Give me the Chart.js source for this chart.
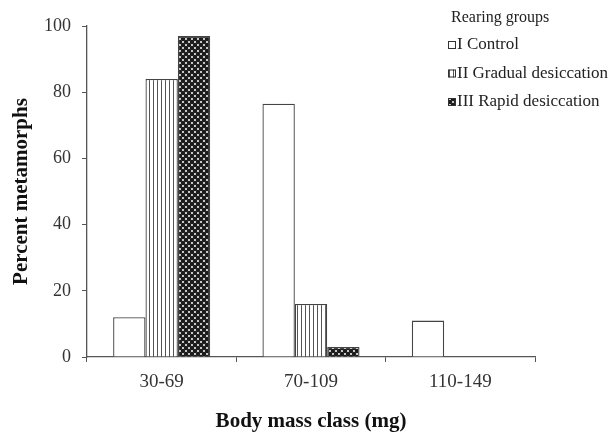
<!DOCTYPE html>
<html lang="en">
<head>
    <meta charset="UTF-8">
    <title>Percent metamorphs by body mass class</title>
    <script src="https://cdn.jsdelivr.net/npm/chart.js@4.4.1/dist/chart.umd.min.js"></script>
    <style>
        body {
            margin: 0;
            background: #fff;
        }
        #wrap {
            width: 613px;
            height: 432px;
        }
    </style>
</head>
<body>

<div id="wrap">
    <canvas id="massChart" width="613" height="432"></canvas>
</div>

<script>
    // data
    const massClasses = ['30-69', '70-109', '110-149'];
    const controlPct = [12, 76.5, 11];
    const gradualPct = [84, 16, 0];
    const rapidPct = [97, 3, 0];
    const yTicks = [0, 20, 40, 60, 80, 100];
    const groupNames = ['I Control', 'II Gradual desiccation', 'III Rapid desiccation'];

    const serif = '"Liberation Serif", "Times New Roman", serif';

    // fill patterns for the three groups
    function makeStripes() {
        const c = document.createElement('canvas');
        c.width = 4; c.height = 4;
        const g = c.getContext('2d');
        g.fillStyle = '#fff';
        g.fillRect(0, 0, 4, 4);
        g.fillStyle = '#555';
        g.fillRect(1, 0, 1, 4);
        return g.createPattern(c, 'repeat');
    }

    function makeDots() {
        const c = document.createElement('canvas');
        c.width = 6; c.height = 6;
        const g = c.getContext('2d');
        g.fillStyle = '#fff';
        g.fillRect(0, 0, 6, 6);
        g.fillStyle = '#1c1c1c';
        [[0, 0], [6, 0], [0, 6], [6, 6], [3, 3]].forEach(p => {
            g.beginPath();
            g.arc(p[0], p[1], 2.3, 0, Math.PI * 2);
            g.fill();
        });
        return g.createPattern(c, 'repeat');
    }

    const fills = ['#fff', makeStripes(), makeDots()];

    // legend drawn in the top right corner, over the plot
    const cornerLegend = {
        id: 'cornerLegend',
        afterDraw(chart) {
            const ctx = chart.ctx;
            ctx.save();
            ctx.font = '16px ' + serif;
            ctx.fillStyle = '#222';
            ctx.textBaseline = 'middle';
            ctx.fillText('Rearing groups', 451, 18);
            ctx.font = '17px ' + serif;
            groupNames.forEach((name, i) => {
                const y = 45 + i * 28.5;
                ctx.fillStyle = fills[i];
                ctx.fillRect(448, y - 4, 8, 8);
                ctx.strokeStyle = '#333';
                ctx.lineWidth = 1;
                ctx.strokeRect(448.5, y - 3.5, 7, 7);
                ctx.fillStyle = '#222';
                ctx.fillText(name, 457, y);
            });
            ctx.restore();
        }
    };

    function bars(label, data, i) {
        return {
            label: label,
            data: data,
            backgroundColor: fills[i],
            borderColor: '#444',
            borderWidth: 1.3,
            borderSkipped: 'start',
            barPercentage: 1,
            categoryPercentage: 0.65
        };
    }

    new Chart(document.getElementById('massChart'), {
        type: 'bar',
        data: {
            labels: massClasses,
            datasets: [
                bars(groupNames[0], controlPct, 0),
                bars(groupNames[1], gradualPct, 1),
                bars(groupNames[2], rapidPct, 2)
            ]
        },
        options: {
            responsive: false,
            animation: false,
            layout: {
                padding: { top: 26, right: 78, left: 0, bottom: 0 }
            },
            plugins: {
                legend: { display: false },
                tooltip: { enabled: false }
            },
            scales: {
                x: {
                    grid: {
                        offset: true,
                        drawOnChartArea: false,
                        tickLength: 5,
                        color: '#555'
                    },
                    border: { color: '#555', width: 1.3 },
                    ticks: {
                        font: { family: serif, size: 19 },
                        color: '#333',
                        padding: 9
                    },
                    title: {
                        display: true,
                        text: 'Body mass class (mg)',
                        font: { family: serif, size: 21, weight: 'bold', lineHeight: 1 },
                        color: '#111',
                        padding: { top: 0, bottom: 0 }
                    },
                    afterFit: s => { s.height = 75; }
                },
                y: {
                    min: 0,
                    max: 100,
                    afterBuildTicks: s => { s.ticks = yTicks.map(v => ({ value: v })); },
                    grid: {
                        drawOnChartArea: false,
                        tickLength: 5,
                        color: '#555'
                    },
                    border: { color: '#555', width: 1.3 },
                    ticks: {
                        font: { family: serif, size: 18 },
                        color: '#333',
                        padding: 11
                    },
                    title: {
                        display: true,
                        text: 'Percent metamorphs',
                        font: { family: serif, size: 21, weight: 'bold' },
                        color: '#111',
                        padding: { top: 9, bottom: 0 }
                    },
                    afterFit: s => { s.width = 87; }
                }
            }
        },
        plugins: [cornerLegend]
    });
</script>

</body>
</html>
